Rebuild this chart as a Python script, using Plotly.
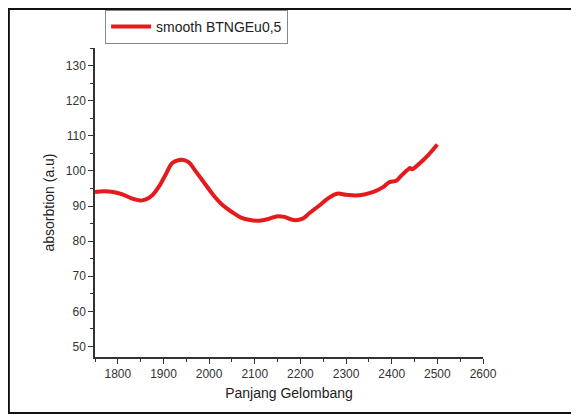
import plotly.graph_objects as go

wavelength = [1750, 1770, 1790, 1810, 1830, 1850, 1860, 1875, 1890, 1905, 1920, 1940, 1955, 1970,
              1990, 2010, 2030, 2050, 2070, 2090, 2110, 2130, 2150, 2165, 2185, 2205, 2220, 2240,
              2260, 2280, 2300, 2320, 2340, 2360, 2380, 2395, 2410, 2420, 2435, 2440, 2445, 2460,
              2480, 2500]
absorption = [94, 94.2, 94, 93.3, 92.2, 91.6, 91.8, 93, 95.5, 99, 102.3, 103.2, 102.5, 100,
              96.5, 93, 90.2, 88.3, 86.7, 86, 85.8, 86.3, 87.1, 86.9, 86, 86.4, 88, 90,
              92.1, 93.5, 93.2, 93, 93.3, 94, 95.3, 96.8, 97.2, 98.5, 100.3, 100.8, 100.5, 102,
              104.5, 107.5]
series_name = "smooth BTNGEu0,5"

fig = go.Figure()
fig.add_trace(go.Scatter(x=wavelength, y=absorption, mode="lines", name=series_name,
                         line=dict(color="#e41a1c", width=4, shape="spline")))

axis_common = dict(showgrid=False, zeroline=False, showline=True, linecolor="#333",
                   linewidth=1.5, ticks="outside", ticklen=5, tickcolor="#333",
                   tickfont=dict(size=12, color="#333"),
                   minor=dict(ticks="outside", ticklen=3, tickcolor="#333", nticks=2, showgrid=False))

fig.update_layout(
    width=579, height=419,
    margin=dict(l=87, r=104, t=40, b=70, autoexpand=False),
    plot_bgcolor="white", paper_bgcolor="white",
    font=dict(family="Liberation Sans, Arial", color="#222"),
    showlegend=True,
    legend=dict(x=0.026, y=1.068, xanchor="left", yanchor="middle", bgcolor="white",
                bordercolor="#888", borderwidth=1, font=dict(size=14), itemwidth=40),
    shapes=[dict(type="rect", xref="paper", yref="paper", x0=-0.222, x1=1.240, y0=-0.181, y1=1.126,
                 line=dict(color="#111", width=2))],
)
fig.update_xaxes(range=[1750, 2600], dtick=100, title=dict(text="Panjang Gelombang", font=dict(size=14), standoff=8),
                 **axis_common)
fig.update_yaxes(range=[47, 135], dtick=10, title=dict(text="absorbtion (a.u)", font=dict(size=14), standoff=8),
                 **axis_common)

fig.write_html("out.html")
